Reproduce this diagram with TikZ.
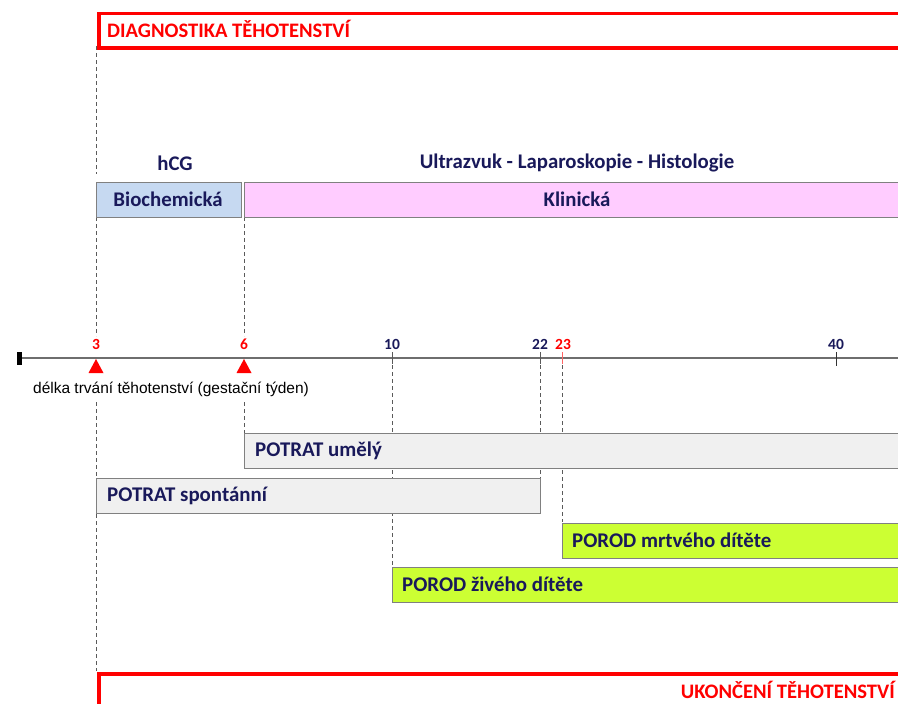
\documentclass[tikz,border=0pt]{standalone}
\usepackage{fontspec}
\setmainfont{Carlito}
\newfontfamily\arialfont{Liberation Sans}
\definecolor{navy}{RGB}{25,25,90}
\definecolor{boxgray}{RGB}{240,240,240}
\definecolor{edgegray}{RGB}{128,128,128}
\definecolor{limegreen}{RGB}{204,255,51}
\definecolor{pinkbox}{RGB}{255,204,255}
\definecolor{bluebox}{RGB}{198,217,241}
\definecolor{axisgray}{RGB}{110,110,110}
\definecolor{guidegray}{RGB}{90,90,90}
\definecolor{lightred}{RGB}{255,100,100}
\begin{document}
\begin{tikzpicture}[x=1pt,y=-1pt,
  redbox/.style={draw=red,line width=3.5pt,fill=white,anchor=north west,inner sep=0pt},
  bar/.style={draw=edgegray,line width=1pt,anchor=north west,inner sep=0pt,minimum height=35pt},
  bartext/.style={font=\bfseries\fontsize{20.9}{22}\selectfont,text=navy,anchor=west,inner sep=0pt},
  headtext/.style={font=\bfseries\fontsize{20.8}{22}\selectfont,text=navy,inner sep=0pt},
  redtitle/.style={font=\bfseries\fontsize{20.6}{22}\selectfont,text=red,inner sep=0pt},
  ticklbl/.style={font=\bfseries\fontsize{15.5}{16}\selectfont,inner sep=0pt},
  guide/.style={draw=guidegray,line width=0.9pt,dash pattern=on 4pt off 3pt},
  tickmark/.style={line width=1pt}
]
\clip (0,0) rectangle (898,704);
\fill[white] (0,0) rectangle (898,704);

% coordinates on the axis
\coordinate (a0) at (19,358);
\coordinate (aend) at (900,358);
\coordinate (t3) at (96,358);
\coordinate (t6) at (244,358);
\coordinate (t10) at (392,358);
\coordinate (t22) at (540,358);
\coordinate (t23) at (562,358);
\coordinate (t40) at (836,358);

% guide end points
\coordinate (g3a) at (96,46);
\coordinate (g3b) at (96,174);
\coordinate (g3c) at (96,217);
\coordinate (g3d) at (96,336);
\coordinate (g3e) at (96,402);
\coordinate (g3f) at (96,671);
\coordinate (g6a) at (244,217);
\coordinate (g6b) at (244,336);
\coordinate (g6c) at (244,402);
\coordinate (g6d) at (244,433);
\coordinate (g10a) at (392,365);
\coordinate (g10b) at (392,567);
\coordinate (g22a) at (540,365);
\coordinate (g22b) at (540,478);
\coordinate (g23a) at (562,365);
\coordinate (g23b) at (562,522);

% dashed guides
\draw[guide] (g3a) -- (g3b);
\draw[guide] (g3c) -- (g3d);
\draw[guide] (g3e) -- (g3f);
\draw[guide] (g6a) -- (g6b);
\draw[guide] (g6c) -- (g6d);
\draw[guide] (g10a) -- (g10b);
\draw[guide] (g22a) -- (g22b);
\draw[guide] (g23a) -- (g23b);

% top red box
\node[redbox,minimum width=820pt,minimum height=34.5pt] (diag) at (97,11.5) {};
\node[redtitle,anchor=west] (diagt) at (107,29) {DIAGNOSTIKA TĚHOTENSTVÍ};

% headings
\node[headtext] (hcg) at (175,163) {hCG};
\node[headtext] (uzv) at (577,163) {Ultrazvuk - Laparoskopie - Histologie};

% diagnostics bars
\node[bar,fill=bluebox,minimum width=145pt] (bio) at (96,182) {};
\node[headtext] (biot) at (168,199.5) {Biochemická};
\node[bar,fill=pinkbox,minimum width=670pt] (klin) at (244,182) {};
\node[headtext] (klint) at (577,199.5) {Klinická};

% axis
\draw[axisgray,line width=2pt] (a0) -- (aend);
\fill[black] (17,352) rectangle (21.5,364.5);
\draw[tickmark,guidegray] (392,352) -- (392,364);
\draw[tickmark,guidegray] (540,352) -- (540,364);
\draw[tickmark,lightred] (562,352) -- (562,364);
\draw[tickmark,black!80] (836,352) -- (836,366);

% triangles
\fill[red] (88.5,373) -- (103.5,373) -- (96,359) -- cycle;
\fill[red] (236.5,373) -- (251.5,373) -- (244,359) -- cycle;

% tick labels
\node[ticklbl,text=red] (l3) at (96,344) {3};
\node[ticklbl,text=red] (l6) at (244,344) {6};
\node[ticklbl,text=navy] (l10) at (392,344) {10};
\node[ticklbl,text=navy] (l22) at (540,344) {22};
\node[ticklbl,text=red] (l23) at (563,344) {23};
\node[ticklbl,text=navy] (l40) at (836,344) {40};

\node[font=\arialfont\fontsize{15.5}{16}\selectfont,inner sep=0pt] (axlbl) at (171,389) {délka trvání těhotenství (gestační týden)};

% outcome bars
\node[bar,fill=boxgray,minimum width=670pt] (umely) at (244,433) {};
\node[bartext] (umelyt) at (255,450.5) {POTRAT umělý};
\node[bar,fill=boxgray,minimum width=444pt] (spont) at (96,478) {};
\node[bartext] (spontt) at (107,495.5) {POTRAT spontánní};
\node[bar,fill=limegreen,minimum width=350pt] (mrtve) at (562,522.5) {};
\node[bartext] (mrtvet) at (572,540) {POROD mrtvého dítěte};
\node[bar,fill=limegreen,minimum width=520pt] (zive) at (392,567) {};
\node[bartext] (zivet) at (402,584.5) {POROD živého dítěte};

% bottom red box
\node[redbox,minimum width=820pt,minimum height=50pt] (ukon) at (97,672) {};
\node[redtitle,anchor=east] (ukont) at (895,690) {UKONČENÍ TĚHOTENSTVÍ};
\end{tikzpicture}
\end{document}
